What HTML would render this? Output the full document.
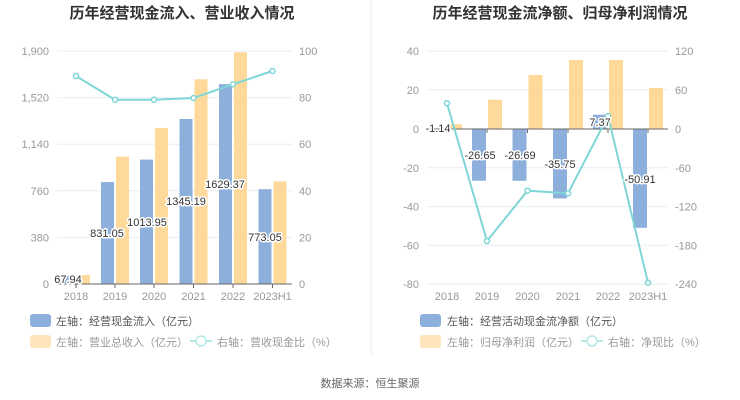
<!DOCTYPE html>
<html><head><meta charset="utf-8"><style>
body{margin:0;background:#fff;}
svg{display:block;font-family:"Liberation Sans","Noto Sans CJK SC",sans-serif;}
.ax{font-size:11px;fill:#999;}
.lb{font-size:11px;fill:#333;stroke:#fff;stroke-width:3px;paint-order:stroke;stroke-linejoin:round;}
.lg{font-size:11px;fill:#555;}
.t{font-size:15px;font-weight:bold;fill:#333;}
</style></head><body>
<svg width="740" height="400" viewBox="0 0 740 400">
<rect width="740" height="400" fill="#fff"/>
<line x1="371" y1="0" x2="371" y2="355" stroke="#eee"/>
<text class="t" x="182" y="18" text-anchor="middle">历年经营现金流入、营业收入情况</text>
<text class="t" x="560" y="18" text-anchor="middle">历年经营现金流净额、归母净利润情况</text>
<!-- left grid -->
<g stroke="#e8edf5">
<line x1="57" y1="51" x2="292" y2="51"/><line x1="57" y1="97.6" x2="292" y2="97.6"/><line x1="57" y1="144.2" x2="292" y2="144.2"/><line x1="57" y1="190.8" x2="292" y2="190.8"/><line x1="57" y1="237.4" x2="292" y2="237.4"/>
</g>
<g class="ax" text-anchor="end">
<text x="49" y="55">1,900</text><text x="49" y="101.6">1,520</text><text x="49" y="148.2">1,140</text><text x="49" y="194.8">760</text><text x="49" y="241.4">380</text><text x="49" y="288">0</text>
</g>
<g class="ax">
<text x="299" y="55">100</text><text x="299" y="101.6">80</text><text x="299" y="148.2">60</text><text x="299" y="194.8">40</text><text x="299" y="241.4">20</text><text x="299" y="288">0</text>
</g>
<!-- left bars -->
<g fill="#8dafdc">
<rect x="62" y="275.7" width="13" height="8.3"/>
<rect x="101" y="182.1" width="13" height="101.9"/>
<rect x="140" y="159.6" width="13" height="124.4"/>
<rect x="179.5" y="119" width="13" height="165"/>
<rect x="219" y="84.1" width="13" height="199.9"/>
<rect x="258.5" y="189.2" width="13" height="94.8"/>
</g>
<g fill="#ffd99a">
<rect x="77" y="275" width="13" height="9"/>
<rect x="116" y="156.7" width="13" height="127.3"/>
<rect x="155" y="128" width="13" height="156"/>
<rect x="194.5" y="79.3" width="13" height="204.7"/>
<rect x="234" y="52.3" width="13" height="231.7"/>
<rect x="273.5" y="181.3" width="13" height="102.7"/>
</g>
<line x1="57" y1="284" x2="292" y2="284" stroke="#666"/>
<g stroke="#666"><line x1="76" y1="284" x2="76" y2="288"/><line x1="115" y1="284" x2="115" y2="288"/><line x1="154" y1="284" x2="154" y2="288"/><line x1="193.5" y1="284" x2="193.5" y2="288"/><line x1="233" y1="284" x2="233" y2="288"/><line x1="272.5" y1="284" x2="272.5" y2="288"/></g>
<g class="ax" text-anchor="middle">
<text x="76" y="300">2018</text><text x="115" y="300">2019</text><text x="154" y="300">2020</text><text x="193.5" y="300">2021</text><text x="233" y="300">2022</text><text x="272.5" y="300">2023H1</text>
</g>
<polyline points="76,76 115,99.7 154,99.7 193.5,98 233,84.3 272.5,71" fill="none" stroke="#7fd6d6" stroke-width="2"/>
<g fill="#fff" stroke="#7fd6d6" stroke-width="1.5">
<circle cx="76" cy="76" r="2.5"/><circle cx="115" cy="99.7" r="2.5"/><circle cx="154" cy="99.7" r="2.5"/><circle cx="193.5" cy="98" r="2.5"/><circle cx="233" cy="84.3" r="2.5"/><circle cx="272.5" cy="71" r="2.5"/>
</g>
<g class="lb" text-anchor="middle">
<text x="68" y="283">67.94</text><text x="107" y="237">831.05</text><text x="147" y="226">1013.95</text><text x="186" y="205">1345.19</text><text x="225" y="188">1629.37</text><text x="265" y="241">773.05</text>
</g>
<!-- left legend -->
<rect x="30" y="314" width="21" height="13" rx="3" fill="#8dafdc"/>
<text class="lg" x="56" y="325">左轴：经营现金流入（亿元）</text>
<rect x="30" y="335" width="21" height="13" rx="3" fill="#ffe4bb"/>
<text class="lg" x="56" y="346" fill="#999" style="fill:#999">左轴：营业总收入（亿元）</text>
<line x1="190" y1="341" x2="212" y2="341" stroke="#b5e8e8" stroke-width="2"/><circle cx="201" cy="341" r="5" fill="#fff" stroke="#b5e8e8" stroke-width="1.5"/>
<text class="lg" x="217" y="346" style="fill:#999">右轴：营收现金比（%）</text>

<!-- right grid -->
<g stroke="#e8edf5">
<line x1="427" y1="51" x2="668" y2="51"/><line x1="427" y1="89.8" x2="668" y2="89.8"/><line x1="427" y1="167.8" x2="668" y2="167.8"/><line x1="427" y1="206.6" x2="668" y2="206.6"/><line x1="427" y1="245.3" x2="668" y2="245.3"/><line x1="427" y1="284" x2="668" y2="284"/>
</g>
<g class="ax" text-anchor="end">
<text x="419" y="55">40</text><text x="419" y="93.8">20</text><text x="419" y="133">0</text><text x="419" y="171.8">-20</text><text x="419" y="210.6">-40</text><text x="419" y="249.3">-60</text><text x="419" y="288">-80</text>
</g>
<g class="ax">
<text x="675" y="55">120</text><text x="675" y="93.8">60</text><text x="675" y="133">0</text><text x="675" y="171.8">-60</text><text x="675" y="210.6">-120</text><text x="675" y="249.3">-180</text><text x="675" y="288">-240</text>
</g>
<g fill="#ffd99a">
<rect x="448" y="124.3" width="14" height="4.7"/>
<rect x="488" y="99.7" width="14" height="29.3"/>
<rect x="528.5" y="75" width="14" height="54"/>
<rect x="569" y="60" width="14" height="69"/>
<rect x="609" y="60" width="14" height="69"/>
<rect x="649" y="88" width="14" height="41"/>
</g>
<g fill="#8dafdc">
<rect x="432" y="129" width="14" height="2.2"/>
<rect x="472" y="129" width="14" height="51.7"/>
<rect x="512.5" y="129" width="14" height="51.8"/>
<rect x="553" y="129" width="14" height="69.4"/>
<rect x="593" y="114.7" width="14" height="14.3"/>
<rect x="633" y="129" width="14" height="98.8"/>
</g>
<line x1="427" y1="129" x2="668" y2="129" stroke="#666"/>
<g stroke="#666"><line x1="447" y1="129" x2="447" y2="133"/><line x1="487" y1="129" x2="487" y2="133"/><line x1="527.5" y1="129" x2="527.5" y2="133"/><line x1="568" y1="129" x2="568" y2="133"/><line x1="608" y1="129" x2="608" y2="133"/><line x1="648" y1="129" x2="648" y2="133"/></g>
<g class="ax" text-anchor="middle">
<text x="447" y="300">2018</text><text x="487" y="300">2019</text><text x="527.5" y="300">2020</text><text x="568" y="300">2021</text><text x="608" y="300">2022</text><text x="648" y="300">2023H1</text>
</g>
<polyline points="447,103.3 487,241 527.5,190.7 568,193.3 608,116 648,282.7" fill="none" stroke="#7fd6d6" stroke-width="2"/>
<g fill="#fff" stroke="#7fd6d6" stroke-width="1.5">
<circle cx="447" cy="103.3" r="2.5"/><circle cx="487" cy="241" r="2.5"/><circle cx="527.5" cy="190.7" r="2.5"/><circle cx="568" cy="193.3" r="2.5"/><circle cx="608" cy="116" r="2.5"/><circle cx="648" cy="282.7" r="2.5"/>
</g>
<g class="lb" text-anchor="middle">
<text x="438" y="132">-1.14</text><text x="480" y="159">-26.65</text><text x="520" y="159">-26.69</text><text x="560" y="168">-35.75</text><text x="600" y="126">7.37</text><text x="640" y="183">-50.91</text>
</g>
<rect x="420" y="314" width="21" height="13" rx="3" fill="#8dafdc"/>
<text class="lg" x="447" y="325">左轴：经营活动现金流净额（亿元）</text>
<rect x="420" y="335" width="21" height="13" rx="3" fill="#ffe4bb"/>
<text class="lg" x="447" y="346" style="fill:#999">左轴：归母净利润（亿元）</text>
<line x1="581" y1="341" x2="603" y2="341" stroke="#b5e8e8" stroke-width="2"/><circle cx="592" cy="341" r="5" fill="#fff" stroke="#b5e8e8" stroke-width="1.5"/>
<text class="lg" x="608" y="346" style="fill:#999">右轴：净现比（%）</text>
<text x="370" y="387" text-anchor="middle" style="font-size:11px;fill:#666">数据来源：恒生聚源</text>
</svg>
</body></html>
